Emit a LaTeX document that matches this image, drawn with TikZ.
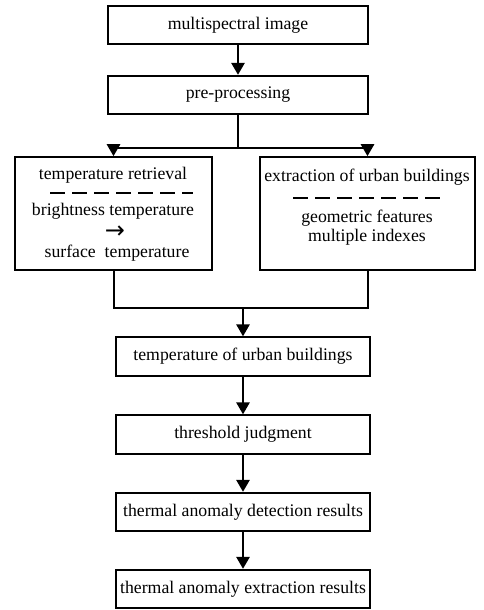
\documentclass[tikz,border=0pt]{standalone}
\usepackage{fontspec}
\setmainfont{Liberation Serif}
\newfontfamily\arrowfont{DejaVu Sans}
\usetikzlibrary{arrows.meta, positioning}
\tikzset{
  box/.style={rectangle, draw, line width=1.3pt, minimum width=195pt, minimum height=29pt, align=center, font=\fontsize{13.3}{15}\selectfont},
  bigbox/.style={rectangle, draw, line width=1.3pt, minimum height=84.75pt},
  txt/.style={inner sep=0pt, font=\fontsize{13.3}{15}\selectfont},
  link/.style={line width=1.5pt},
  arrow/.style={-{Triangle[length=9pt,width=10pt]}, line width=1.5pt},
  sepline/.style={line width=1.6pt, dash pattern=on 11.25pt off 5.25pt},
}

\begin{document}
\begin{tikzpicture}[x=0.75pt,y=-0.75pt]
    \useasboundingbox (0,0) rectangle (483,610);
    \node[box] (img) at (238,25) {multispectral image};
    \node[box] (prep) at (238,95) {pre-processing};
    \node[bigbox, minimum width=147.75pt] (temp) at (113.5,213.5) {};
    \node[bigbox, minimum width=161.25pt] (extr) at (367.5,213.5) {};
    \node[box, minimum width=190.5pt] (bldg) at (243,356.5) {temperature of urban buildings};
    \node[box, minimum width=190.5pt] (thres) at (243,434.5) {threshold judgment};
    \node[box, minimum width=191pt] (detect) at (243,512) {thermal anomaly detection results};
    \node[box, minimum width=191pt] (extract) at (243,589) {thermal anomaly extraction results};
    % left box text
    \node[txt] (retr) at (113,175) {temperature retrieval};
    \draw[sepline] (50,193) -- (193,193);
    \node[txt] (bright) at (113,211) {brightness temperature};
    \node[txt] (to) at (115,232) {\arrowfont\fontsize{18}{18}\selectfont\raisebox{-3pt}{→}};
    \node[txt] (surf) at (117,253) {surface\ \ temperature};
    % right box text
    \node[txt] (urban) at (367,177) {extraction of urban buildings};
    \draw[sepline] (293,198) -- (443,198);
    \node[txt] (geom) at (367,218) {geometric features};
    \node[txt] (index) at (367,237) {multiple indexes};
    % connectors
    \coordinate (split) at (238,148);
    \coordinate (merge) at (243,308);
    \draw[arrow] (img) -- (prep);
    \draw[link] (prep) -- (split);
    \draw[arrow] (split) -| (temp);
    \draw[arrow] (split) -| (extr);
    \draw[link] (temp) |- (merge);
    \draw[link] (extr) |- (merge);
    \draw[arrow] (merge) -- (bldg);
    \draw[arrow] (bldg) -- (thres);
    \draw[arrow] (thres) -- (detect);
    \draw[arrow] (detect) -- (extract);
  \end{tikzpicture}
\end{document}
